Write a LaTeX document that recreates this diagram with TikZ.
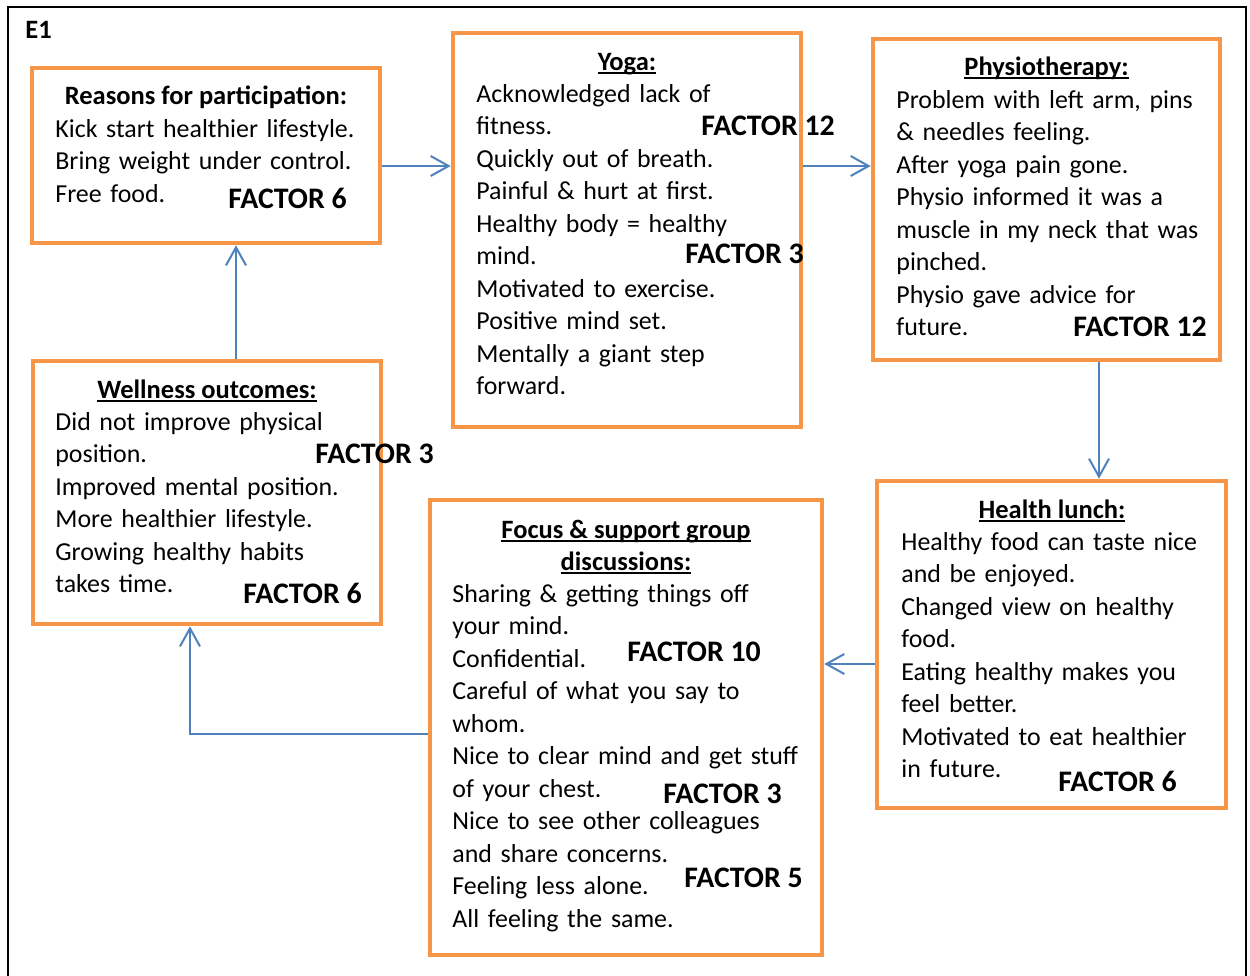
\documentclass[tikz,border=0pt]{standalone}
\usepackage{fontspec}
\setmainfont{Carlito}
\usetikzlibrary{arrows.meta,calc}

\definecolor{boxorange}{HTML}{F79646}
\definecolor{linkblue}{HTML}{4F81BD}

% heading underline: a rule just below the baseline
\newcommand\headul[1]{\setbox0\hbox{#1}\rlap{\rule[-2pt]{\wd0}{0.9pt}}\box0}

\tikzset{
  frame/.style={draw=boxorange, line width=2.3pt, inner sep=0pt, outer sep=auto, fill=white},
  head/.style={font=\fontsize{13.25}{16.25}\selectfont\bfseries, inner sep=0pt, anchor=base},
  body/.style={font=\fontsize{12.95}{16.25}\selectfont, inner sep=0pt, anchor=base west,
               text width=190pt, align=left},
  factor/.style={font=\fontsize{14.9}{17}\selectfont\bfseries, inner sep=0pt, anchor=base west},
  conn/.style={draw=linkblue, line width=1pt,
               -{Straight Barb[length=9pt,width=10pt,line width=1pt]}},
}

\begin{document}
\begin{tikzpicture}[x=0.5pt,y=-0.5pt]
\useasboundingbox (0,0) rectangle (1250,976);

% outer frame, open at the bottom edge
\draw[black, line width=1.1pt] (8,990) -- (8,7) -- (1246,7) -- (1246,990);
\node[factor, font=\fontsize{13.25}{16}\selectfont\bfseries] (label) at (25,38) {E1};

% boxes (sizes in pt: half the pixel size)
\node[frame, minimum width=174pt, minimum height=87.5pt] (reasons) at (206,155.5) {};
\node[frame, minimum width=174pt, minimum height=197pt] (yoga) at (627,230) {};
\node[frame, minimum width=173.5pt, minimum height=160.5pt] (physio) at (1046.5,199.5) {};
\node[frame, minimum width=174.5pt, minimum height=163.5pt] (lunch) at (1051.5,644.5) {};
\node[frame, minimum width=196pt, minimum height=227.5pt] (focus) at (626,727.5) {};
\node[frame, minimum width=174pt, minimum height=131.5pt] (wellness) at (207,492.5) {};

% Reasons for participation
\node[head] (reasonsH) at (206,104) {Reasons for participation:};
\node[body] (reasonsB) at (55,137) {Kick start healthier lifestyle.\\Bring weight under control.\\Free food.};
\node[factor] (reasonsF) at (228,208) {FACTOR 6};

% Yoga
\node[head] (yogaH) at (627,70) {\headul{Yoga:}};
\node[body] (yogaB) at (476,102) {Acknowledged lack of\\fitness.\\Quickly out of breath.\\Painful \& hurt at first.\\Healthy body = healthy\\mind.\\Motivated to exercise.\\Positive mind set.\\Mentally a giant step\\forward.};
\node[factor] (yogaF1) at (701,135) {FACTOR 12};
\node[factor] (yogaF2) at (685,263) {FACTOR 3};

% Physiotherapy
\node[head] (physioH) at (1046.5,75) {\headul{Physiotherapy:}};
\node[body] (physioB) at (896,108) {Problem with left arm, pins\\\& needles feeling.\\After yoga pain gone.\\Physio informed it was a\\muscle in my neck that was\\pinched.\\Physio gave advice for\\future.};
\node[factor] (physioF) at (1073,336) {FACTOR 12};

% Health lunch
\node[head] (lunchH) at (1052,518) {\headul{Health lunch:}};
\node[body] (lunchB) at (901,550) {Healthy food can taste nice\\and be enjoyed.\\Changed view on healthy\\food.\\Eating healthy makes you\\feel better.\\Motivated to eat healthier\\in future.};
\node[factor] (lunchF) at (1058,791) {FACTOR 6};

% Focus & support group discussions
\node[head] (focusH1) at (626,538) {\headul{Focus \& support group}};
\node[head] (focusH2) at (626,570) {\headul{discussions:}};
\node[body] (focusB) at (452,602) {Sharing \& getting things off\\your mind.\\Confidential.\\Careful of what you say to\\whom.\\Nice to clear mind and get stuff\\of your chest.\\Nice to see other colleagues\\and share concerns.\\Feeling less alone.\\All feeling the same.};
\node[factor] (focusF1) at (627,661) {FACTOR 10};
\node[factor] (focusF2) at (663,803) {FACTOR 3};
\node[factor] (focusF3) at (684,887) {FACTOR 5};

% Wellness outcomes
\node[head] (wellH) at (207,398) {\headul{Wellness outcomes:}};
\node[body] (wellB) at (55,430) {Did not improve physical\\position.\\Improved mental position.\\More healthier lifestyle.\\Growing healthy habits\\takes time.};
\node[factor] (wellF1) at (315,463) {FACTOR 3};
\node[factor] (wellF2) at (243,603) {FACTOR 6};

% connectors
\draw[conn] ($(reasons.east)+(0,10.5)$) coordinate (c1) -- (c1 -| yoga.west);
\draw[conn] ($(yoga.east)+(0,-64)$) coordinate (c2) -- (c2 -| physio.west);
\draw[conn] ($(physio.south)+(52.5,0)$) coordinate (c3) -- (c3 |- lunch.north);
\draw[conn] ($(lunch.west)+(0,19.5)$) coordinate (c4) -- (c4 -| focus.east);
\draw[conn] ($(focus.west)+(0,6.5)$) -| ($(wellness.south)+(-17,0)$);
\draw[conn] ($(wellness.north)+(29,0)$) coordinate (c6) -- (c6 |- reasons.south);
\end{tikzpicture}
\end{document}
